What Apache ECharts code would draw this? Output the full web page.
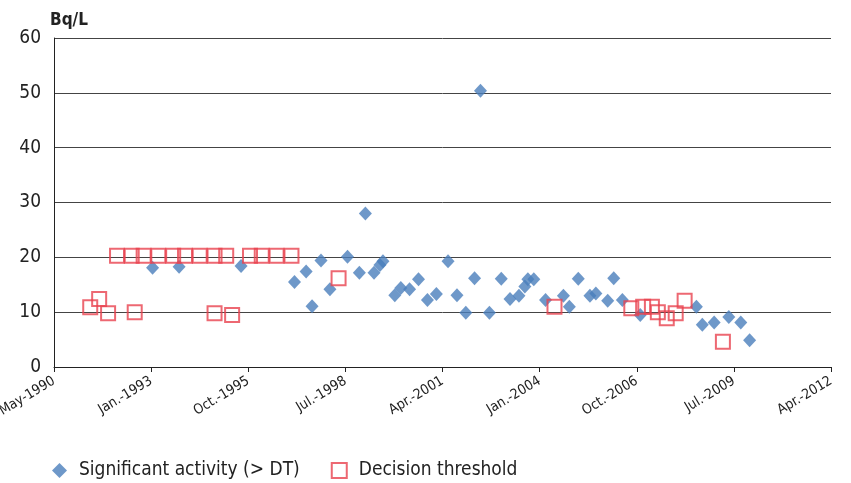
<!DOCTYPE html>
<html>
<head>
<meta charset="utf-8">
<script src="https://cdn.jsdelivr.net/npm/echarts@6/dist/echarts.min.js"></script>
<style>
  html, body { margin: 0; padding: 0; background: #fff; }
  #chart-container { width: 851px; height: 483px; }
</style>
</head>
<body>
<div id="chart-container"></div>
<script>
// measurement dates (year-month) and activity in Bq/L
var activityDates = [
  '1993-02', '1993-11', '1995-08', '1997-02', '1997-06', '1997-08', '1997-11', '1998-02',
  '1998-08', '1998-12', '1999-02', '1999-05', '1999-07', '1999-08', '1999-12', '2000-02',
  '2000-05', '2000-08', '2000-11', '2001-02', '2001-06', '2001-09', '2001-12', '2002-03',
  '2002-05', '2002-08', '2002-12', '2003-03', '2003-06', '2003-08', '2003-09', '2003-11',
  '2004-03', '2004-09', '2004-11', '2005-02', '2005-06', '2005-08', '2005-12', '2006-02',
  '2006-05', '2006-11', '2008-06', '2008-08', '2008-12', '2009-05', '2009-09', '2009-12'
];
var activityValues = [
  18.1, 18.3, 18.4, 15.5, 17.4, 11.1, 19.4, 14.2,
  20.1, 17.2, 28.0, 17.2, 18.6, 19.3, 13.1, 14.4,
  14.2, 16.0, 12.2, 13.3, 19.3, 13.1, 9.9, 16.2,
  50.4, 9.9, 16.1, 12.4, 13.0, 14.7, 16.0, 16.0,
  12.2, 13.0, 11.0, 16.1, 13.0, 13.4, 12.1, 16.2,
  12.2, 9.5, 11.0, 7.7, 8.1, 9.1, 8.1, 4.9
];

var thresholdDates = [
  '1991-05', '1991-08', '1991-11', '1992-02', '1992-07', '1992-08', '1992-11', '1993-04',
  '1993-09', '1994-01', '1994-06', '1994-11', '1994-11', '1995-03', '1995-05', '1995-11',
  '1996-03', '1996-08', '1997-01', '1998-05', '2004-06', '2006-08', '2006-12', '2007-03',
  '2007-05', '2007-08', '2007-11', '2008-02', '2009-03'
];
var thresholdValues = [
  10.9, 12.4, 9.8, 20.3, 20.3, 10.0, 20.3, 20.3,
  20.3, 20.3, 20.3, 20.3, 9.8, 20.3, 9.5, 20.3,
  20.3, 20.3, 20.3, 16.2, 11.0, 10.7, 11.0, 11.0,
  10.0, 8.9, 9.8, 12.1, 4.6
];

// x axis runs on spreadsheet day numbers, ticks every 1000 days
var xMin = 33000, xMax = 41000, xStep = 1000;
var monthNames = ['Jan.', 'Feb.', 'Mar.', 'Apr.', 'May', 'Jun.', 'Jul.', 'Aug.', 'Sep.', 'Oct.', 'Nov.', 'Dec.'];

function toSerial(ym) {
  var p = ym.split('-');
  return Date.UTC(+p[0], +p[1] - 1, 15) / 86400000 + 25569;
}
function serialLabel(v) {
  var d = new Date((v - 25569) * 86400000);
  return monthNames[d.getUTCMonth()] + '-' + d.getUTCFullYear();
}
function pairs(dates, values) {
  return dates.map(function (d, i) { return [toSerial(d), values[i]]; });
}

var chartDom = document.getElementById('chart-container');
var myChart = echarts.init(chartDom);

var font = '"Liberation Sans Narrow", "DejaVu Sans Condensed", "Noto Sans"';

option = {
  animation: false,
  textStyle: { fontFamily: font },
  grid: { left: 54, right: 20, top: 38, bottom: 116, containLabel: false, outerBoundsMode: 'none' },
  legend: {
    left: 47,
    top: 456,
    itemGap: 31,
    itemWidth: 15,
    itemHeight: 15,
    textStyle: { fontFamily: font, fontSize: 19, color: '#222', padding: [0, 0, 0, 7] },
    data: ['Significant activity (> DT)', 'Decision threshold']
  },
  xAxis: {
    type: 'value',
    min: xMin,
    max: xMax,
    interval: xStep,
    axisLine: { lineStyle: { color: '#222', width: 1 } },
    axisTick: { show: true, length: 5, lineStyle: { color: '#222' } },
    splitLine: { show: false },
    axisLabel: {
      rotate: 31,
      fontFamily: font,
      fontSize: 14,
      color: '#222',
      margin: 13,
      formatter: serialLabel
    }
  },
  yAxis: {
    type: 'value',
    name: 'Bq/L',
    nameLocation: 'end',
    nameGap: 9,
    nameTextStyle: { fontFamily: font, fontSize: 17, fontWeight: 'bold', color: '#222', align: 'left', padding: [0, 0, 0, -4] },
    min: 0,
    max: 60,
    interval: 10,
    axisLine: { show: true, lineStyle: { color: '#222', width: 1 } },
    axisTick: { show: false },
    splitLine: { lineStyle: { color: '#444', width: 1 } },
    axisLabel: { fontFamily: font, fontSize: 19, color: '#222', margin: 13 }
  },
  series: [
    {
      name: 'Significant activity (> DT)',
      type: 'scatter',
      symbol: 'diamond',
      symbolSize: [13, 14],
      itemStyle: { color: '#4A7EBB' },
      data: pairs(activityDates, activityValues)
    },
    {
      name: 'Decision threshold',
      type: 'scatter',
      symbol: 'rect',
      symbolSize: 14,
      itemStyle: { color: 'rgba(255,255,255,0)', borderColor: '#E8424F', borderWidth: 2 },
      data: pairs(thresholdDates, thresholdValues)
    }
  ]
};

option && myChart.setOption(option);
</script>
</body>
</html>
